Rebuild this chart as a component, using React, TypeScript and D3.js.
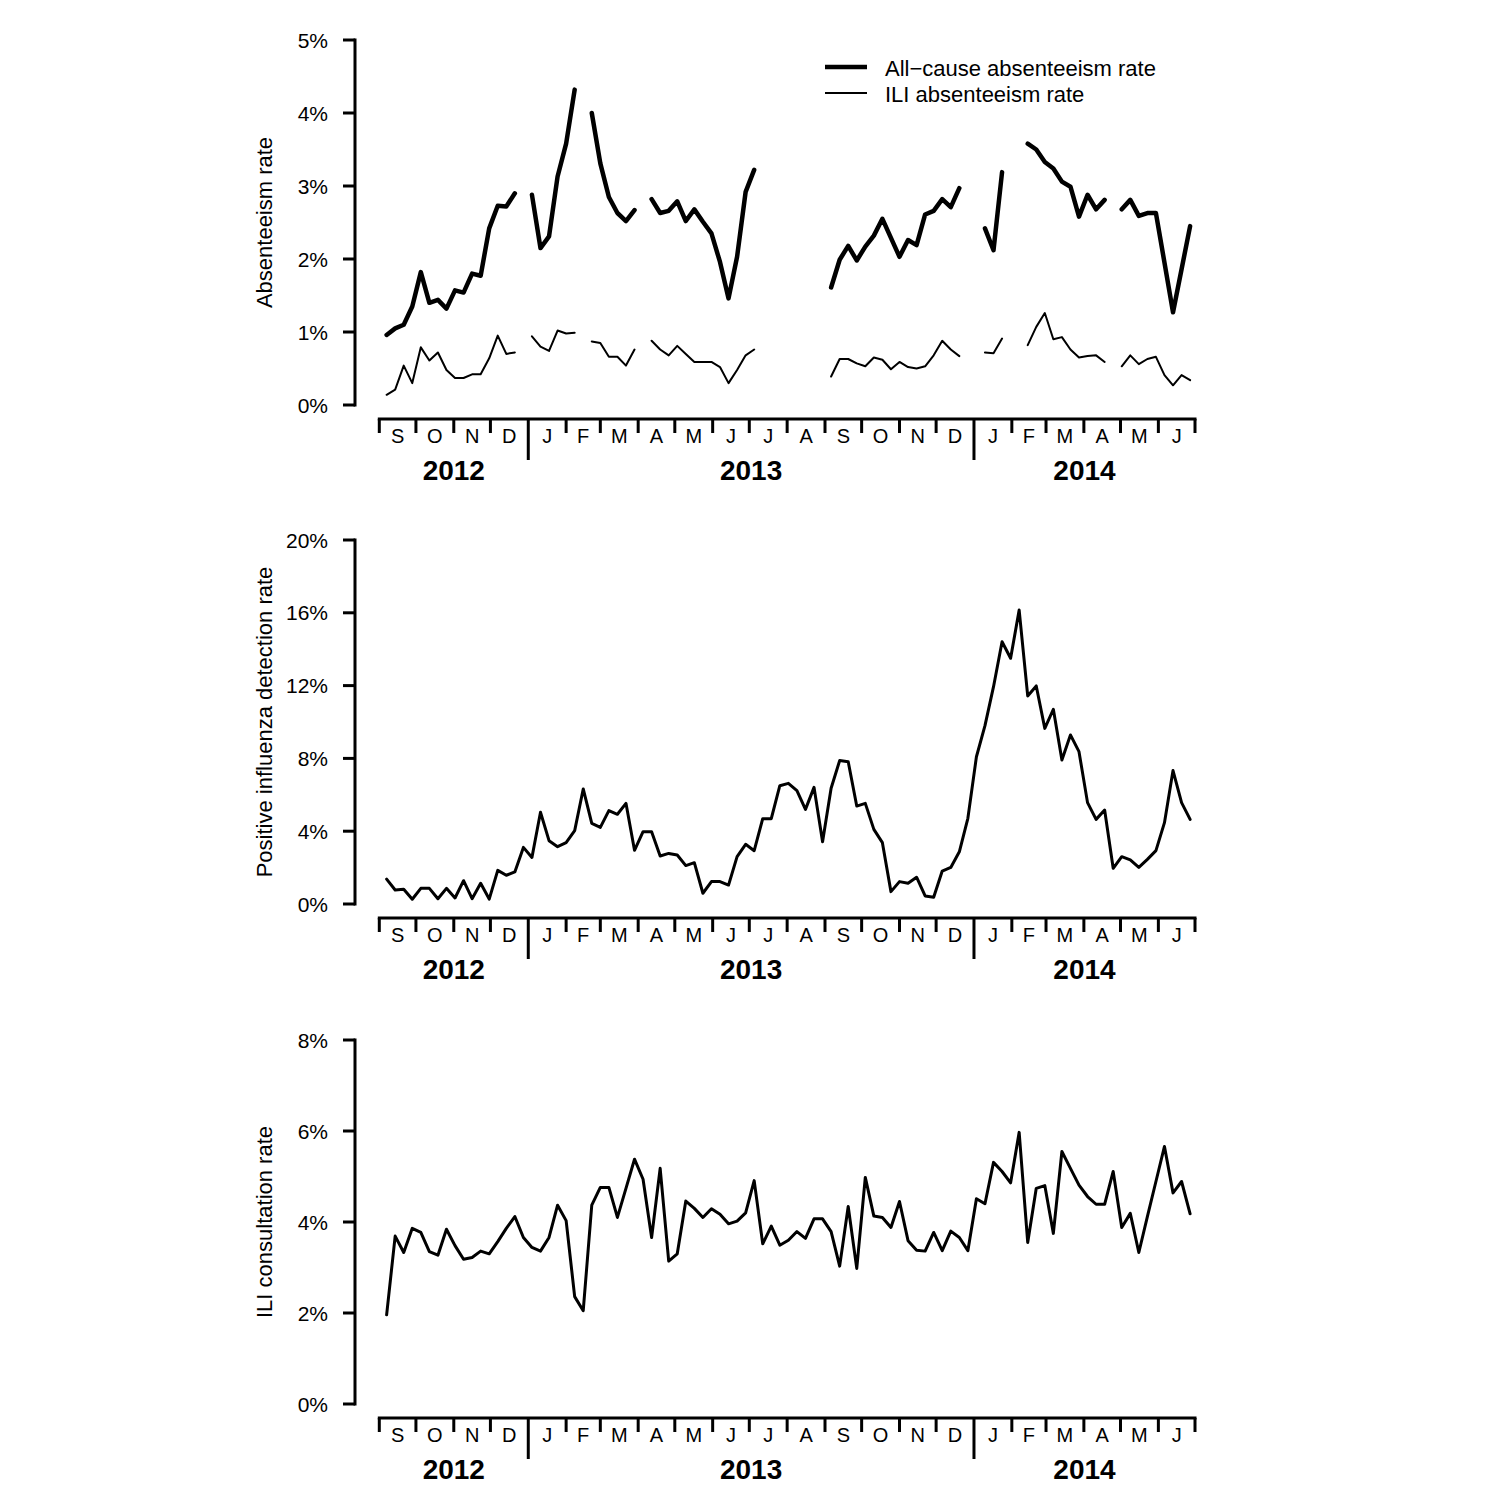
import React from 'react';
import * as d3 from 'd3';

// weekly series, first week ending 7 Sep 2012; null = school holiday (no data)
const allCauseRate: (number | null)[] = [
    0.96, 1.05, 1.10, 1.35, 1.82, 1.40, 1.44, 1.32, 1.57, 1.54, 1.80, 1.77, 2.42, 2.73, 2.72, 2.90,
    null, 2.88, 2.15, 2.31, 3.13, 3.58, 4.32, null, 4.00, 3.31, 2.85, 2.63, 2.52, 2.67, null,
    2.82, 2.63, 2.66, 2.79, 2.52, 2.68, 2.51, 2.35, 1.96, 1.46, 2.03, 2.92, 3.22,
    null, null, null, null, null, null, null, null,
    1.61, 1.99, 2.18, 1.98, 2.17, 2.32, 2.55, 2.29, 2.03, 2.26, 2.19, 2.61, 2.66, 2.82, 2.71, 2.97,
    null, null, 2.42, 2.12, 3.19, null, null,
    3.58, 3.50, 3.33, 3.24, 3.06, 2.99, 2.58, 2.88, 2.68, 2.81, null,
    2.68, 2.81, 2.59, 2.63, 2.63, 1.95, 1.27, 1.86, 2.45,
];

const iliAbsRate: (number | null)[] = [
    0.14, 0.21, 0.54, 0.30, 0.79, 0.61, 0.72, 0.48, 0.37, 0.37, 0.42, 0.42, 0.64, 0.95, 0.70, 0.72,
    null, 0.94, 0.80, 0.74, 1.02, 0.98, 0.99, null, 0.87, 0.85, 0.66, 0.66, 0.54, 0.76, null,
    0.88, 0.76, 0.68, 0.81, 0.70, 0.59, 0.59, 0.59, 0.52, 0.30, 0.48, 0.68, 0.76,
    null, null, null, null, null, null, null, null,
    0.39, 0.63, 0.63, 0.57, 0.53, 0.65, 0.62, 0.49, 0.59, 0.52, 0.50, 0.53, 0.68, 0.88, 0.76, 0.67,
    null, null, 0.72, 0.71, 0.91, null, null,
    0.82, 1.07, 1.26, 0.90, 0.93, 0.76, 0.65, 0.67, 0.68, 0.59, null,
    0.53, 0.68, 0.56, 0.63, 0.66, 0.41, 0.27, 0.41, 0.34,
];

const positiveRate: number[] = [
    1.37, 0.77, 0.81, 0.26, 0.86, 0.86, 0.29, 0.86, 0.33, 1.28, 0.29, 1.14, 0.27, 1.85, 1.58, 1.76,
    3.11, 2.56, 5.04, 3.48, 3.15, 3.37, 4.03, 6.32, 4.43, 4.21, 5.13, 4.93, 5.53, 2.95, 3.97, 3.97,
    2.64, 2.78, 2.69, 2.11, 2.27, 0.59, 1.23, 1.23, 1.04, 2.60, 3.28, 2.93, 4.69, 4.69, 6.50, 6.63,
    6.23, 5.20, 6.41, 3.42, 6.36, 7.88, 7.82, 5.38, 5.53, 4.10, 3.37, 0.68, 1.23, 1.14, 1.47, 0.44,
    0.37, 1.81, 2.01, 2.87, 4.71, 8.09, 9.80, 11.94, 14.41, 13.50, 16.15, 11.43, 11.98, 9.65, 10.70, 7.91,
    9.29, 8.37, 5.57, 4.65, 5.16, 1.96, 2.60, 2.42, 2.01, 2.45, 2.93, 4.47, 7.33, 5.57, 4.65,
];

const iliConsultRate: number[] = [
    1.96, 3.69, 3.33, 3.86, 3.77, 3.35, 3.27, 3.84, 3.48, 3.18, 3.22, 3.36, 3.30, 3.57, 3.86, 4.12,
    3.66, 3.44, 3.36, 3.66, 4.37, 4.03, 2.36, 2.05, 4.37, 4.76, 4.76, 4.10, 4.74, 5.38, 4.94, 3.66,
    5.18, 3.14, 3.30, 4.46, 4.30, 4.10, 4.29, 4.17, 3.96, 4.02, 4.20, 4.91, 3.52, 3.91, 3.49, 3.60,
    3.79, 3.64, 4.07, 4.07, 3.79, 3.03, 4.34, 2.98, 4.98, 4.13, 4.10, 3.88, 4.45, 3.59, 3.38, 3.36,
    3.77, 3.37, 3.80, 3.66, 3.37, 4.51, 4.40, 5.31, 5.11, 4.86, 5.97, 3.55, 4.74, 4.80, 3.75, 5.55,
    5.18, 4.81, 4.56, 4.39, 4.39, 5.11, 3.88, 4.19, 3.33, 4.12, 4.89, 5.66, 4.64, 4.89, 4.18,
];

const monthInitials = ['J', 'F', 'M', 'A', 'M', 'J', 'J', 'A', 'S', 'O', 'N', 'D'];
const yearLabels = ['2012', '2013', '2014'];
const topTicks = [0, 1, 2, 3, 4, 5];
const midTicks = [0, 4, 8, 12, 16, 20];
const botTicks = [0, 2, 4, 6, 8];
const legendLabels = ['All\u2212cause absenteeism rate', 'ILI absenteeism rate'];

const FONT = '"Liberation Sans", Arial, sans-serif';
const start = new Date(Date.UTC(2012, 8, 1));
const end = new Date(Date.UTC(2014, 6, 1));
const firstWeek = new Date(Date.UTC(2012, 8, 7));
const weeks = positiveRate.map((_, i) => d3.utcDay.offset(firstWeek, 7 * i));

const x = d3.scaleUtc().domain([start, end]).range([379.3, 1195]);
const AXIS_X = 355;

const TimeAxis: React.FC<{ y: number }> = ({ y }) => {
    const months = d3.utcMonth.range(start, d3.utcDay.offset(end, 1));
    const yearBounds = [start, ...d3.utcYear.range(d3.utcDay.offset(start, 1), end), end];
    return (
        <g>
            <line x1={x(start)} x2={x(end)} y1={y} y2={y} stroke="#000" strokeWidth={3} strokeLinecap="square" />
            {months.map((m, i) => {
                const isYear = m.getUTCMonth() === 0;
                return <line key={i} x1={x(m)} x2={x(m)} y1={y} y2={y + (isYear ? 41 : 14)} stroke="#000" strokeWidth={3} />;
            })}
            {months.slice(0, -1).map((m, i) => (
                <text key={i} x={(x(m) + x(d3.utcMonth.offset(m, 1))) / 2} y={y + 24} textAnchor="middle"
                      fontSize={20} fontFamily={FONT}>{monthInitials[m.getUTCMonth()]}</text>
            ))}
            {yearLabels.map((lab, i) => (
                <text key={lab} x={(x(yearBounds[i]) + x(yearBounds[i + 1])) / 2} y={y + 61} textAnchor="middle"
                      fontSize={28} fontWeight="bold" fontFamily={FONT}>{lab}</text>
            ))}
        </g>
    );
};

interface PanelProps {
    y0: number;
    y1: number;
    ticks: number[];
    title: string;
    children: (y: d3.ScaleLinear<number, number>) => React.ReactNode;
}

const Panel: React.FC<PanelProps> = ({ y0, y1, ticks, title, children }) => {
    const y = d3.scaleLinear().domain([ticks[0], ticks[ticks.length - 1]]).range([y0, y1]);
    return (
        <g>
            <line x1={AXIS_X} x2={AXIS_X} y1={y0} y2={y1} stroke="#000" strokeWidth={3} strokeLinecap="square" />
            {ticks.map(t => (
                <g key={t}>
                    <line x1={AXIS_X - 12} x2={AXIS_X} y1={y(t)} y2={y(t)} stroke="#000" strokeWidth={3} />
                    <text x={328} y={y(t)} dy="0.36em" textAnchor="end" fontSize={21} fontFamily={FONT}>{t}%</text>
                </g>
            ))}
            <text transform={`translate(272,${(y0 + y1) / 2}) rotate(-90)`} textAnchor="middle" fontSize={22}
                  fontFamily={FONT}>{title}</text>
            <TimeAxis y={y0 + 14} />
            {children(y)}
        </g>
    );
};

const seriesPath = (vals: (number | null)[], y: d3.ScaleLinear<number, number>) =>
    d3.line<number | null>()
        .defined(d => d != null)
        .x((_, i) => x(weeks[i]))
        .y(d => y(d as number))(vals) || '';

const App: React.FC = () => (
    <svg width={1500} height={1498} style={{ position: 'absolute', left: 0, top: 0, background: '#fff' }}>
        <rect width={1500} height={1498} fill="#fff" />
        <Panel y0={405} y1={40} ticks={topTicks} title="Absenteeism rate">
            {y => (
                <g fill="none" stroke="#000" strokeLinejoin="round" strokeLinecap="round">
                    <path d={seriesPath(allCauseRate, y)} strokeWidth={4.5} />
                    <path d={seriesPath(iliAbsRate, y)} strokeWidth={2} />
                </g>
            )}
        </Panel>
        <g>
            <line x1={825} x2={867} y1={67} y2={67} stroke="#000" strokeWidth={4.5} />
            <line x1={825} x2={867} y1={93} y2={93} stroke="#000" strokeWidth={2} />
            <text x={885} y={76} fontSize={22} fontFamily={FONT}>{legendLabels[0]}</text>
            <text x={885} y={102} fontSize={22} fontFamily={FONT}>{legendLabels[1]}</text>
        </g>
        <Panel y0={904} y1={540} ticks={midTicks} title="Positive influenza detection rate">
            {y => <path d={seriesPath(positiveRate, y)} fill="none" stroke="#000" strokeWidth={3}
                        strokeLinejoin="round" strokeLinecap="round" />}
        </Panel>
        <Panel y0={1404} y1={1040} ticks={botTicks} title="ILI consultation rate">
            {y => <path d={seriesPath(iliConsultRate, y)} fill="none" stroke="#000" strokeWidth={3}
                        strokeLinejoin="round" strokeLinecap="round" />}
        </Panel>
    </svg>
);

export default App;
